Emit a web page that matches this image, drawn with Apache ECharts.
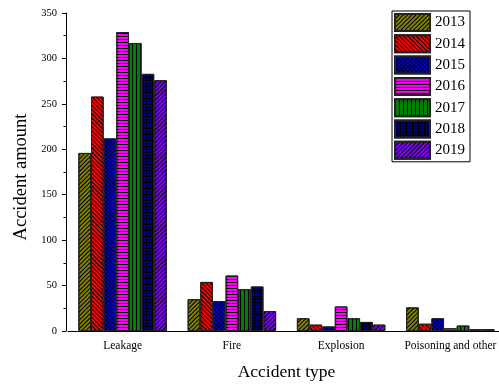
<!DOCTYPE html>
<html><head><meta charset="utf-8">
<script src="https://cdn.jsdelivr.net/npm/echarts@6/dist/echarts.min.js"></script>
<style>html,body{margin:0;padding:0;background:#fff}#c{width:499px;height:385px}</style>
</head><body><div id="c"></div>
<script>
const categories = ['Leakage', 'Fire', 'Explosion', 'Poisoning and other'];
const years = ['2013', '2014', '2015', '2016', '2017', '2018', '2019'];
const v2013 = [196, 35, 14, 26];
const v2014 = [258, 54, 7, 8];
const v2015 = [212, 33, 5, 14];
const v2016 = [329, 61, 27, 3];
const v2017 = [317, 46, 14, 6];
const v2018 = [283, 49, 10, 2];
const v2019 = [276, 22, 7, 2];
const yTicks = [0, 50, 100, 150, 200, 250, 300, 350];

const values = [v2013, v2014, v2015, v2016, v2017, v2018, v2019];
const colors = ['#808000', '#ff0000', '#0000ff', '#ff00ff', '#008000', '#000000', '#8000ff'];
const Q = Math.PI / 4;
const decals = [
  {symbol: 'rect', color: '#000', dashArrayX: [1, 0], dashArrayY: [1, 2], rotation: -Q},
  {symbol: 'rect', color: '#000', dashArrayX: [1, 0], dashArrayY: [1, 2], rotation: Q},
  {symbol: 'diamond', color: '#000', dashArrayX: [2.12, 0], dashArrayY: [2.12, 0], rotation: Q},
  {symbol: 'rect', color: '#000', dashArrayX: [1, 0], dashArrayY: [1, 2], rotation: 0},
  {symbol: 'rect', color: '#000', dashArrayX: [1, 2.5], dashArrayY: [1, 0], rotation: 0},
  {symbol: 'rect', color: '#000080', dashArrayX: [2, 1], dashArrayY: [2, 1], rotation: 0},
  {symbol: 'rect', color: '#000', dashArrayX: [1, 0], dashArrayY: [1, 2], rotation: -Q}
];
const serif = 'Liberation Serif';

const series = years.map((y, i) => ({
  name: y,
  type: 'bar',
  xAxisIndex: 0,
  data: values[i],
  barGap: '0%',
  barCategoryGap: '19%',
  itemStyle: {color: colors[i], borderColor: '#222', borderWidth: 1, decal: decals[i]}
}));

const chart = echarts.init(document.getElementById('c'), null, {renderer: 'canvas'});
chart.setOption({
  animation: false,
  backgroundColor: '#fff',
  grid: {left: 68, top: 13, width: 437, height: 318, containLabel: false, outerBoundsMode: 'none'},
  legend: {
    orient: 'vertical', left: 392, top: 11, icon: 'rect',
    borderColor: '#000', borderWidth: 1, padding: [2, 5, 2, 2],
    itemWidth: 35, itemHeight: 17, itemGap: 2.3,
    textStyle: {fontFamily: serif, fontSize: 15, lineHeight: 17, color: '#000'},
    data: years
  },
  xAxis: [{
    type: 'category', data: categories, position: 'bottom',
    axisLine: {lineStyle: {color: '#000', width: 1}},
    axisTick: {alignWithLabel: true, length: 5, lineStyle: {color: '#000'}},
    axisLabel: {interval: 0, fontFamily: serif, fontSize: 11.5, color: '#000', margin: 9},
    name: 'Accident type', nameLocation: 'middle', nameGap: 32,
    nameTextStyle: {fontFamily: serif, fontSize: 17.5, color: '#000'}
  }, {
    type: 'category', data: categories, position: 'bottom',
    axisLine: {show: false},
    axisTick: {length: 3, lineStyle: {color: '#000'}},
    axisLabel: {show: false}
  }],
  yAxis: {
    type: 'value', min: yTicks[0], max: yTicks[yTicks.length - 1], interval: 50,
    offset: 2,
    axisLine: {show: true, lineStyle: {color: '#000', width: 1}},
    axisTick: {show: true, length: 4, lineStyle: {color: '#000'}},
    minorTick: {show: true, splitNumber: 2, length: 2.5, lineStyle: {color: '#000'}},
    splitLine: {show: false},
    axisLabel: {fontFamily: serif, fontSize: 10.5, color: '#000', margin: 9},
    name: 'Accident amount', nameLocation: 'middle', nameGap: 35,
    nameTextStyle: {fontFamily: serif, fontSize: 18.5, color: '#000', padding: [0, 10, 0, 0]}
  },
  series: series
});
</script></body></html>
